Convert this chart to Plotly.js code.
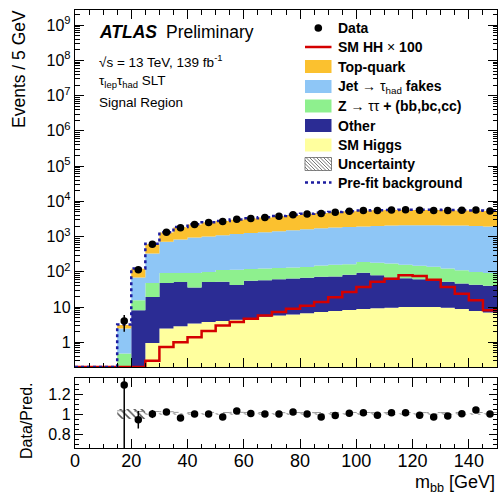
<!DOCTYPE html>
<html><head><meta charset="utf-8">
<script src="https://cdn.plot.ly/plotly-3.0.1.min.js"></script>
<style>html,body{margin:0;padding:0;background:#fff}</style>
</head><body><div id="chart" style="width:499px;height:496px"></div>
<script>
// ---- data (bins of 5 GeV, left edges 0..145) ----
const binEdges = [0,5,10,15,20,25,30,35,40,45,50,55,60,65,70,75,80,85,90,95,100,105,110,115,120,125,130,135,140,145,150];
const dataCounts = [null,null,null,4,115,610,1326,1776,2200,2500,2668,3090,3266,3500,3800,4182,4400,4559,4876,5236,5470,5478,5723,5774,5626,5529,5537,5567,5668,5350];
const smHiggs    = [0,0,0,0,0.1,0.95,2.45,2.85,3.4,3.8,4.0,4.4,4.9,5.3,5.8,6.2,6.7,7.3,7.8,8.3,8.8,9.2,9.6,10.0,10.1,10.0,9.5,8.8,7.8,7.0];
const other      = [0,0,0,0.1,8.0,18.5,45.5,49,32.6,48,48,37.6,51,52.7,56,59,61,65,66,74,86,71,60,56,52,48,42.5,38,35,33];
const zttHF      = [0,0,0,0.38,7.5,28.6,45,41,57,48,60,73,64,67,66,67,70,78,84,83,95,100,102,94,88,82,73,65,57,52];
const jetFakes   = [0,0,0,1.97,53.4,282,617,737,847,900,988,1065,1140,1215,1292,1388,1482,1570,1642,1715,1760,1820,1878,1940,1950,1960,1955,1938,1900,1858];
const topQuark   = [0,0,0,0.65,53,280,590,1020,1260,1500,1650,1820,1990,2160,2380,2580,2780,2980,3150,3320,3450,3550,3600,3600,3600,3600,3570,3500,3450,3400];
const signalHHx100 = [0,0,0,0,0,0.3,0.74,1.0,1.4,2.1,3.0,3.8,4.7,5.8,7.3,9.0,11,14,19,27,37,52,64,80,76,60,37,24,15.6,8.1];
const prefitBkg  = [0,0,0,3.2,125,625,1330,1880,2230,2540,2790,3050,3300,3550,3850,4160,4460,4770,5020,5280,5480,5630,5730,5780,5780,5780,5730,5630,5530,5430];
const relUnc     = [0,0,0,0.05,0.05,0.006,0.006,0.006,0.006,0.006,0.006,0.006,0.006,0.006,0.006,0.006,0.006,0.006,0.006,0.006,0.006,0.006,0.006,0.006,0.006,0.006,0.006,0.006,0.006,0.006];
const xTickVals = [0,20,40,60,80,100,120,140];
const yTickVals = [1,10,100,1e3,1e4,1e5,1e6,1e7,1e8,1e9];
const yTickText = ['1','10','10<sup>2</sup>','10<sup>3</sup>','10<sup>4</sup>','10<sup>5</sup>','10<sup>6</sup>','10<sup>7</sup>','10<sup>8</sup>','10<sup>9</sup>'];
const ratioTickVals = [0.8,1,1.2];
const ratioTickText = ['0.8','1','1.2'];
const legendLabels = ['<b>Data</b>','<b>SM HH</b> \u00d7 <b>100</b>','<b>Top-quark</b>','<b>Jet</b> \u2192 \u03c4<sub>had</sub> <b>fakes</b>','<b>Z</b> \u2192 \u03c4\u03c4 <b>+ (bb,bc,cc)</b>','<b>Other</b>','<b>SM Higgs</b>','<b>Uncertainty</b>','<b>Pre-fit background</b>'];

// ---- styles ----
const C = {higgs:'#FFFF9E', other:'#2B2C94', ztt:'#8EF08E', jet:'#8EC6F6', top:'#FBC12F', sig:'#D40000', prefit:'#1C1CA0'};
const YMIN = -0.7, YMAX = 9.43;
const floorVal = Math.pow(10, YMIN);
const nb = binEdges.length - 1;
const centers = binEdges.slice(0,nb).map((e,i)=> (e + binEdges[i+1]) / 2);

function cum(arrs){ return arrs[0].map((_,i)=> arrs.reduce((s,a)=>s+a[i],0)); }
function stepY(arr){ const a = arr.map(v=>Math.max(v, floorVal)); a.push(a[a.length-1]); return a; }

const c1 = cum([smHiggs]);
const c2 = cum([smHiggs,other]);
const c3 = cum([smHiggs,other,zttHF]);
const c4 = cum([smHiggs,other,zttHF,jetFakes]);
const c5 = cum([smHiggs,other,zttHF,jetFakes,topQuark]);

const traces = [];
traces.push({x:binEdges, y:stepY(binEdges.slice(0,nb).map(()=>0)), mode:'lines', line:{width:0, shape:'hv'}, hoverinfo:'skip', showlegend:false, xaxis:'x', yaxis:'y'});
[[c1,C.higgs],[c2,C.other],[c3,C.ztt],[c4,C.jet],[c5,C.top]].forEach(([c,col])=>{
  traces.push({x:binEdges, y:stepY(c), mode:'lines', line:{width:0, shape:'hv'}, fill:'tonexty', fillcolor:col, hoverinfo:'skip', showlegend:false, xaxis:'x', yaxis:'y'});
});
traces.push({x:binEdges, y:stepY(signalHHx100), mode:'lines', line:{width:2.5, color:C.sig, shape:'hv'}, hoverinfo:'skip', showlegend:false, xaxis:'x', yaxis:'y'});
traces.push({x:binEdges, y:stepY(prefitBkg), mode:'lines', line:{width:2.5, color:C.prefit, shape:'hv', dash:'dot'}, hoverinfo:'skip', showlegend:false, xaxis:'x', yaxis:'y'});

// data
const dIdx = dataCounts.map((v,i)=>v==null?-1:i).filter(i=>i>=0);
traces.push({x:dIdx.map(i=>centers[i]), y:dIdx.map(i=>dataCounts[i]), mode:'markers',
  marker:{color:'black', size:7.5}, error_y:{type:'data', array:dIdx.map(i=>Math.sqrt(dataCounts[i])), color:'black', thickness:1.5, width:0},
  hoverinfo:'skip', showlegend:false, xaxis:'x', yaxis:'y'});

// ratio panel
const rEdges = binEdges.slice(3);
const bIdx = [...Array(nb).keys()].slice(3);
const uLo = bIdx.map(i=>1-relUnc[i]); uLo.push(uLo[uLo.length-1]);
const uHi = bIdx.map(i=>1+relUnc[i]); uHi.push(uHi[uHi.length-1]);
traces.push({x:rEdges, y:uLo, mode:'lines', line:{width:0, shape:'hv'}, hoverinfo:'skip', showlegend:false, xaxis:'x2', yaxis:'y2'});
traces.push({x:rEdges, y:uHi, mode:'lines', line:{width:0, shape:'hv'}, fill:'tonexty', fillcolor:'rgba(0,0,0,0)',
  fillpattern:{shape:'\\', fgcolor:'#555', bgcolor:'rgba(0,0,0,0)', size:5, solidity:0.3}, hoverinfo:'skip', showlegend:false, xaxis:'x2', yaxis:'y2'});
const pre = bIdx.map(i=>prefitBkg[i]/c5[i]); pre.push(pre[pre.length-1]);
traces.push({x:rEdges, y:pre, mode:'lines', line:{width:1, color:'#999', dash:'dash', shape:'hv'}, hoverinfo:'skip', showlegend:false, xaxis:'x2', yaxis:'y2'});
traces.push({x:dIdx.map(i=>centers[i]), y:dIdx.map(i=>dataCounts[i]/c5[i]), mode:'markers',
  marker:{color:'black', size:7.5}, error_y:{type:'data', array:dIdx.map(i=>Math.sqrt(dataCounts[i])/c5[i]), color:'black', thickness:1.5, width:0},
  hoverinfo:'skip', showlegend:false, xaxis:'x2', yaxis:'y2'});

// ---- layout helpers ----
const L = 75, R = 2, T = 10, B = 48, W = 499, H = 496;
const PW = W-L-R, PH = H-T-B;
const px = x => (x-L)/PW;
const py = y => (H-B-y)/PH;

const minorLog = [];
for (let k=-1;k<=9;k++) for (let m=2;m<=9;m++) minorLog.push(m*Math.pow(10,k));

const font = 'Liberation Sans, Arial, Helvetica, sans-serif';
const axBase = {showline:true, linecolor:'black', linewidth:1.2, mirror:'allticks', ticks:'inside', ticklen:9, tickwidth:1, tickcolor:'black', showgrid:false, zeroline:false};

const annotations = [];
const ann = (x,y,text,size,opts={}) => annotations.push(Object.assign({xref:'paper', yref:'paper', x:px(x), y:py(y), text:text, showarrow:false, xanchor:'left', yanchor:'middle', font:{family:font, size:size, color:'black'}}, opts));
ann(97,32.5,'<b><i>ATLAS</i></b>',17.5);
ann(164,32.5,'Preliminary',17.5);
ann(97,61,'\u221As = 13 TeV, 139 fb<sup>-1</sup>',13.5);
ann(97,81,'\u03c4<sub>lep</sub>\u03c4<sub>had</sub> SLT',13.5);
ann(97,103,'Signal Region',13.5);
ann(19,69,'Events / 5 GeV',17.5,{xanchor:'center', textangle:-90});
ann(26,421,'Data/Pred.',16,{xanchor:'center', textangle:-90});
ann(497,483,'m<sub>bb</sub> [GeV]',18,{xanchor:'right'});

// legend (manual)
const legY = [28,47,66.5,86.5,106,125.5,145,164,182.5];
legendLabels.forEach((t,i)=> ann(336, legY[i], t, 14));
const shapes = [];
const sx0 = 305, sx1 = 331.5, bh = 6.5;
shapes.push({type:'circle', xref:'paper', yref:'paper', x0:px(318.3-3.8), x1:px(318.3+3.8), y0:py(legY[0]+3.8), y1:py(legY[0]-3.8), fillcolor:'black', line:{width:0}});
shapes.push({type:'line', xref:'paper', yref:'paper', x0:px(sx0), x1:px(sx1), y0:py(legY[1]), y1:py(legY[1]), line:{color:C.sig, width:2.5}});
[[2,C.top],[3,C.jet],[4,C.ztt],[5,C.other],[6,C.higgs]].forEach(([i,col])=>{
  shapes.push({type:'rect', xref:'paper', yref:'paper', x0:px(sx0), x1:px(sx1), y0:py(legY[i]+bh), y1:py(legY[i]-bh), fillcolor:col, line:{width:0}});
});
// hatched box
(function(){
  const y0 = legY[7]-bh, y1 = legY[7]+bh, h = y1-y0;
  shapes.push({type:'rect', xref:'paper', yref:'paper', x0:px(sx0), x1:px(sx1), y0:py(y1), y1:py(y0), line:{width:0.8, color:'#666'}});
  for (let k=-h; k<sx1-sx0; k+=3.5) {
    let xa = sx0+k, ya = y0, xb = sx0+k+h, yb = y1;
    if (xa < sx0) { ya += (sx0-xa); xa = sx0; }
    if (xb > sx1) { yb -= (xb-sx1); xb = sx1; }
    if (xb-xa < 0.5) continue;
    shapes.push({type:'line', xref:'paper', yref:'paper', x0:px(xa), y0:py(ya), x1:px(xb), y1:py(yb), line:{color:'#555', width:0.8}});
  }
})();
shapes.push({type:'line', xref:'paper', yref:'paper', x0:px(sx0), x1:px(sx1), y0:py(legY[8]), y1:py(legY[8]), line:{color:C.prefit, width:2.5, dash:'dot'}});

const layout = {
  width:W, height:H, margin:{l:L, r:R, t:T, b:B}, paper_bgcolor:'white', plot_bgcolor:'white',
  font:{family:font, color:'black'}, showlegend:false,
  xaxis:Object.assign({}, axBase, {domain:[0,1], anchor:'y', range:[0,150], tickmode:'array', tickvals:xTickVals, showticklabels:false,
    minor:{dtick:5, tick0:0, ticks:'inside', ticklen:4.5, tickcolor:'black', showgrid:false}}),
  yaxis:Object.assign({}, axBase, {domain:[py(367),1], anchor:'x', type:'log', range:[YMIN,YMAX], tickmode:'array', tickvals:yTickVals, ticktext:yTickText,
    tickfont:{family:font, size:16, color:'black'}, minor:{tickmode:'array', tickvals:minorLog, ticks:'inside', ticklen:4.5, tickcolor:'black', showgrid:false}}),
  xaxis2:Object.assign({}, axBase, {domain:[0,1], anchor:'y2', range:[0,150], tickmode:'array', tickvals:xTickVals, ticktext:xTickVals.map(String),
    ticklabelstandoff:-4,
    tickfont:{family:font, size:18, color:'black'}, minor:{dtick:5, tick0:0, ticks:'inside', ticklen:4.5, tickcolor:'black', showgrid:false}}),
  yaxis2:Object.assign({}, axBase, {domain:[0,py(378)], anchor:'x2', range:[0.66,1.36], tickmode:'array', tickvals:ratioTickVals, ticktext:ratioTickText, ticklen:8,
    tickfont:{family:font, size:16, color:'black'}, minor:{dtick:0.05, tick0:0, ticks:'inside', ticklen:4, tickcolor:'black', showgrid:false}}),
  annotations:annotations, shapes:shapes
};
Plotly.newPlot('chart', traces, layout, {staticPlot:true, displayModeBar:false});
</script></body></html>
